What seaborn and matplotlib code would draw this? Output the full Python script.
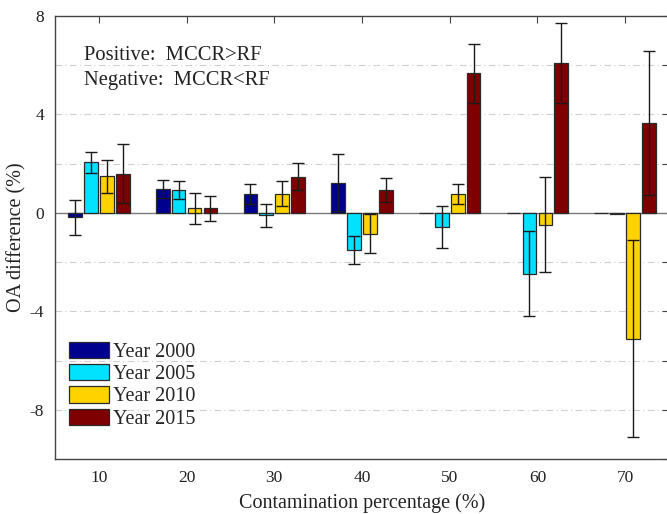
import numpy as np
import pandas as pd
import matplotlib
matplotlib.use("Agg")
import matplotlib.pyplot as plt
from matplotlib.patches import Patch
from matplotlib.colors import to_rgb
from matplotlib.ticker import MultipleLocator, FuncFormatter
import seaborn as sns

# OA difference (MCCR - RF) per contamination level, with error half-widths
contamination = [10, 20, 30, 40, 50, 60, 70]
years = ["Year 2000", "Year 2005", "Year 2010", "Year 2015"]

diff_2000 = [-0.18, 0.97, 0.78, 1.23, 0.00, 0.00, 0.00]
err_2000 = [0.71, 0.38, 0.41, 1.15, 0.00, 0.00, 0.00]
diff_2005 = [2.05, 0.93, -0.10, -1.50, -0.57, -2.47, -0.05]
err_2005 = [0.43, 0.38, 0.48, 0.56, 0.85, 1.73, 0.00]
diff_2010 = [1.48, 0.19, 0.78, -0.85, 0.78, -0.48, -5.12]
err_2010 = [0.67, 0.63, 0.50, 0.80, 0.40, 1.94, 4.00]
diff_2015 = [1.60, 0.18, 1.46, 0.94, 5.68, 6.08, 3.65]
err_2015 = [1.18, 0.52, 0.55, 0.49, 1.20, 1.62, 2.92]

colors = ["#00008F", "#00E2FF", "#FFD200", "#7F0000"]

diffs = [diff_2000, diff_2005, diff_2010, diff_2015]
errs = [err_2000, err_2005, err_2010, err_2015]

df = pd.DataFrame({
    "contamination": np.tile(contamination, len(years)),
    "year": np.repeat(years, len(contamination)),
    "diff": np.concatenate(diffs),
    "err": np.concatenate(errs),
})

sns.set_theme(style="white")
plt.rcParams["font.family"] = ["Liberation Serif", "DejaVu Serif"]
plt.rcParams["axes.unicode_minus"] = False

fig = plt.figure(figsize=(6.67, 5.14), dpi=100)
ax = fig.add_axes([55 / 667, 55 / 514, 614 / 667, 443 / 514])

# zero baseline
ax.axhline(0, color="#7a7a7a", lw=1.0, zorder=1)

sns.barplot(
    data=df, x="contamination", y="diff", hue="year",
    hue_order=years, palette=colors, native_scale=True,
    width=0.727, gap=0.14, dodge=True, saturation=1,
    edgecolor="#2a2a2a", linewidth=0.9, errorbar=None,
    legend=False, ax=ax, zorder=2,
)

# error bars centred on each drawn bar; the year is identified by fill colour
rgb_years = [np.array(to_rgb(c)) for c in colors]
bar_patches = [p for p in ax.patches]
for patch in bar_patches:
    fc = np.array(patch.get_facecolor()[:3])
    yi = int(np.argmin([np.abs(fc - r).sum() for r in rgb_years]))
    cx = patch.get_x() + patch.get_width() / 2
    j = int(np.argmin(np.abs(np.array(contamination) - cx)))
    val, err = diffs[yi][j], errs[yi][j]
    if err > 0:
        ax.errorbar(cx, val, yerr=err, fmt="none",
                    ecolor="#1a1a1a", elinewidth=1.0, capsize=4.0,
                    capthick=1.0, zorder=3)

ax.set_xlim(5, 75)
ax.set_ylim(-10, 8)
ax.set_xticks(contamination)
ax.yaxis.set_major_locator(MultipleLocator(2))
ax.yaxis.set_major_formatter(
    FuncFormatter(lambda v, p: f"{int(round(v))}" if round(v) % 4 == 0 else ""))

ax.grid(False)
for yv in [-8, -6, -4, -2, 2, 4, 6]:
    ax.axhline(yv, color="#cfcfcf", lw=0.8, ls=(0, (6, 3, 1, 3)), zorder=0)

ax.tick_params(axis="both", direction="in", length=5, width=0.8,
               color="#444444", top=True, right=True, labelsize=12.5,
               labelcolor="#222222", pad=8)

for s in ax.spines.values():
    s.set_visible(True)
    s.set_color("#444444")
    s.set_linewidth(1.0)

ax.set_xlabel("Contamination percentage (%)", fontsize=14.5, color="#222222",
              labelpad=5)
ax.set_ylabel("OA difference (%)", fontsize=14.5, color="#222222", labelpad=2)

ax.text(0.047, 0.911, "Positive:  MCCR>RF", transform=ax.transAxes,
        fontsize=14.8, va="center", ha="left", color="#222222")
ax.text(0.047, 0.855, "Negative:  MCCR<RF", transform=ax.transAxes,
        fontsize=14.8, va="center", ha="left", color="#222222")

handles = [Patch(facecolor=c, edgecolor="#2a2a2a", linewidth=0.9) for c in colors]
ax.legend(handles, years, loc="lower left", bbox_to_anchor=(0.023, 0.068),
          frameon=False, fontsize=14.5, handlelength=2.0, handleheight=0.85,
          labelspacing=0.12, handletextpad=0.2, borderaxespad=0, borderpad=0)

fig.savefig("out.png", dpi=100)
